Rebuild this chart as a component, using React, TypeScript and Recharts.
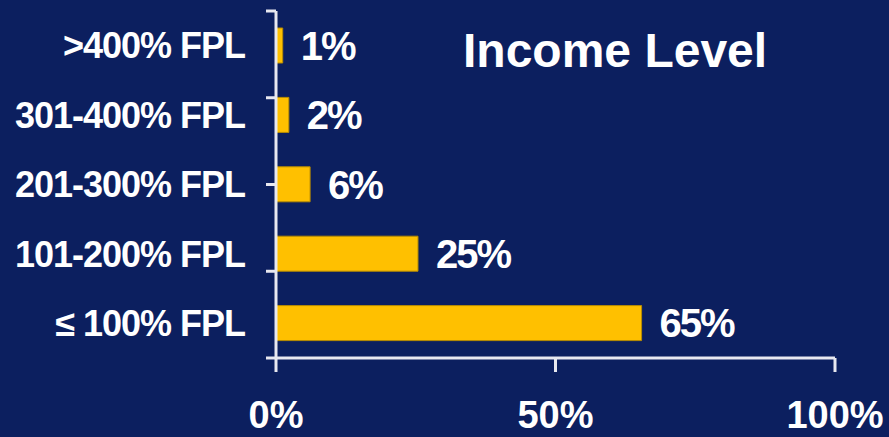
import { BarChart, Bar, XAxis, YAxis, LabelList } from 'recharts';

const categories = ['>400% FPL', '301-400% FPL', '201-300% FPL', '101-200% FPL', '≤ 100% FPL'];
const shares = [1.2, 2.3, 6.1, 25.4, 65.4];
const xTicks = [0, 50, 100];
const bandTicks = [0, 1, 2, 3, 4, 5];

const data = categories.map((name, i) => ({ name, value: shares[i] }));

const font = '"Liberation Sans", Arial, sans-serif';
const axisColor = '#e8e8f0';

// band boundary ticks only, no labels
const NoLabel = () => <g />;

export default function App() {
  return (
    <div style={{ position: 'fixed', left: 0, top: 0, width: 889, height: 437, background: '#0c1f5f' }}>
      <BarChart
        width={889}
        height={437}
        data={data}
        layout="vertical"
        margin={{ top: 11, right: 54, left: 0, bottom: 0 }}
      >
        <XAxis
          type="number"
          domain={[0, 100]}
          ticks={xTicks}
          tickFormatter={(v) => `${v}%`}
          height={79}
          tickSize={14}
          tickMargin={29}
          stroke={axisColor}
          axisLine={{ stroke: axisColor, strokeWidth: 3 }}
          tickLine={{ stroke: axisColor, strokeWidth: 3 }}
          tick={{ fill: '#ffffff', fontSize: 38, fontWeight: 700, fontFamily: font }}
        />
        <YAxis
          yAxisId="bands"
          type="number"
          domain={[0, 5]}
          ticks={bandTicks}
          width={1}
          tick={NoLabel}
          tickSize={10}
          axisLine={{ stroke: axisColor, strokeWidth: 3 }}
          tickLine={{ stroke: axisColor, strokeWidth: 3 }}
        />
        <YAxis
          yAxisId="cat"
          type="category"
          dataKey="name"
          width={275}
          axisLine={false}
          tickLine={false}
          tickSize={0}
          tickMargin={30}
          tick={{ fill: '#ffffff', fontSize: 36, fontWeight: 700, fontFamily: font, letterSpacing: -1 }}
        />
        <Bar
          yAxisId="cat"
          dataKey="value"
          fill="#ffc000"
          stroke="#b88c00"
          strokeWidth={1}
          barSize={35}
          isAnimationActive={false}
        >
          <LabelList
            dataKey="value"
            position="right"
            offset={18}
            formatter={(v: any) => `${Math.round(Number(v))}%`}
            style={{ fill: '#ffffff', fontSize: 40, fontWeight: 700, fontFamily: font, letterSpacing: -2 }}
          />
        </Bar>
      </BarChart>
      <svg width={889} height={437} style={{ position: 'absolute', left: 0, top: 0, pointerEvents: 'none' }}>
        <text x={463} y={67} fill="#ffffff" fontSize={48} fontWeight={700} fontFamily={font}>
          Income Level
        </text>
      </svg>
    </div>
  );
}
